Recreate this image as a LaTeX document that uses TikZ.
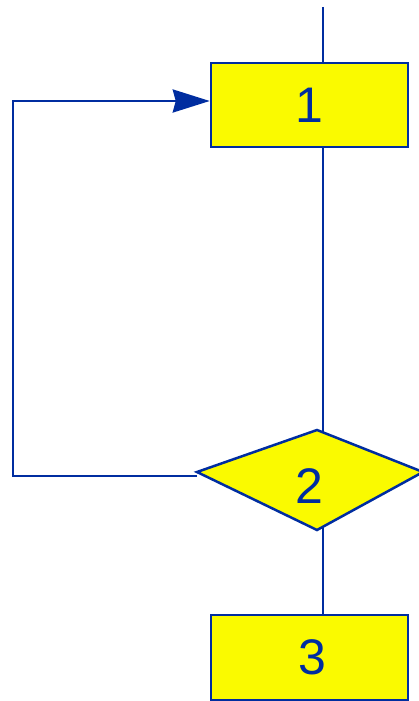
\documentclass[tikz,border=0pt]{standalone}
\usepackage{fontspec}
\setmainfont{Liberation Sans}
\usetikzlibrary{arrows.meta}
\definecolor{flowblue}{RGB}{0,45,160}
\definecolor{flowyellow}{RGB}{250,250,0}

\begin{document}
\begin{tikzpicture}[x=1pt,y=-1pt,line width=2.5pt,
    stepbox/.style={draw=flowblue,fill=flowyellow,minimum width=197pt,minimum height=84pt,
        inner sep=0pt,text=flowblue,font=\fontsize{50}{60}\selectfont},
    flowline/.style={draw=flowblue}]
    \useasboundingbox (0,0) rectangle (418,701);

    % 方框 1 和 3
    \node[stepbox] (b1) at (309.5,105) {1};
    \node[stepbox,minimum height=85pt] (b3) at (309.5,657.5) {\hspace*{6pt}3};

    % 菱形的顶点
    \coordinate (dl) at (197,472);
    \coordinate (dt) at (317,430);
    \coordinate (dr) at (423,472);
    \coordinate (db) at (317,530);

    % 连线
    \coordinate (top) at (323,7);
    \coordinate (corner) at (13,476);
    \draw[flowline] (top) -- (top |- b1.north);
    \draw[flowline] (top |- b1.south) -- (323,434);
    \draw[flowline] (323,526) -- (top |- b3.north);
    \draw[flowline,-{Stealth[length=37pt,width=23pt,inset=3pt]}]
        (dl |- corner) -- (corner) |- ([yshift=4pt]b1.west);

    % 判断菱形 2
    \filldraw[draw=flowblue,fill=flowyellow,line join=miter] (dl) -- (dt) -- (dr) -- (db) -- cycle;
    \node[text=flowblue,font=\fontsize{50}{60}\selectfont] (d2) at (309,486) {2};
\end{tikzpicture}
\end{document}
